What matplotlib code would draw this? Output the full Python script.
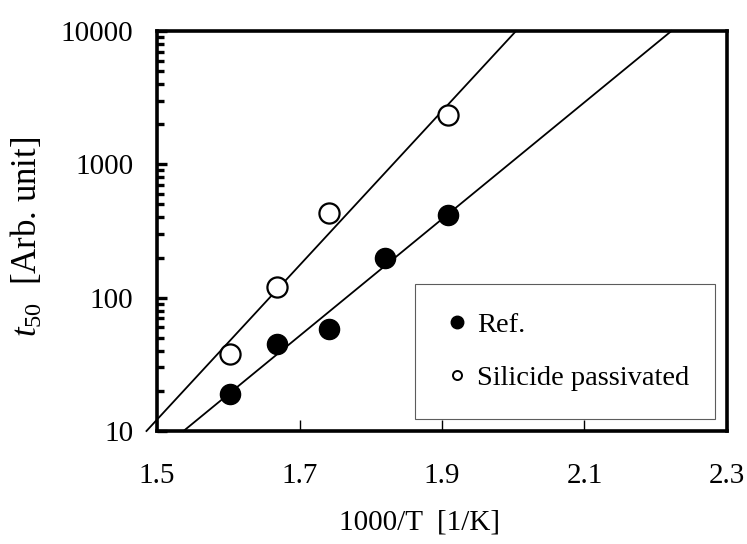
import numpy as np
import matplotlib
matplotlib.use("Agg")
import matplotlib.pyplot as plt
from matplotlib.ticker import LogLocator, NullFormatter, FixedLocator

plt.rcParams['font.family'] = ['Liberation Serif', 'DejaVu Serif']
plt.rcParams['mathtext.fontset'] = 'custom'
plt.rcParams['mathtext.rm'] = 'Liberation Serif'
plt.rcParams['mathtext.it'] = 'Liberation Serif:italic'

# t50 vs inverse temperature
x_ref = [1.603, 1.668, 1.741, 1.820, 1.908]
t50_ref = [19, 45, 58, 199, 420]
x_sil = [1.603, 1.668, 1.741, 1.908]
t50_sil = [38, 120, 430, 2350]

x_ticks = [1.5, 1.7, 1.9, 2.1, 2.3]
y_ticks = [10, 100, 1000, 10000]

fig = plt.figure(figsize=(7.47, 5.44), dpi=100)
ax = fig.add_axes([0.2102, 0.2077, 0.763, 0.7353])
ax.set_yscale('log')
ax.set_xlim(1.5, 2.3)
ax.set_ylim(10, 10000)


def fit_line(xs, ys):
    # Arrhenius fit, drawn from t50=10 up to t50=10000
    k, b = np.polyfit(xs, np.log10(ys), 1)
    xe = (np.array([1.0, 4.0]) - b) / k
    ax.plot(xe, 10 ** (k * xe + b), color='black', lw=1.3, clip_on=False, zorder=2)


fit_line(x_ref, t50_ref)
fit_line(x_sil, t50_sil)

ax.plot(x_ref, t50_ref, 'o', ms=14.5, mfc='black', mec='black', zorder=3,
        label='Ref.')
ax.plot(x_sil, t50_sil, 'o', ms=14.5, mfc='white', mec='black', mew=1.6,
        zorder=3, label='Silicide passivated')

for s in ax.spines.values():
    s.set_linewidth(2.6)

ax.xaxis.set_major_locator(FixedLocator(x_ticks))
ax.set_xticklabels([f'{v:.1f}' for v in x_ticks])
ax.yaxis.set_major_locator(FixedLocator(y_ticks))
ax.set_yticklabels([str(v) for v in y_ticks])
ax.yaxis.set_minor_locator(LogLocator(base=10, subs=np.arange(2, 10)))
ax.yaxis.set_minor_formatter(NullFormatter())

ax.tick_params(axis='x', which='major', direction='in', length=8, width=1,
               labelsize=21, pad=23, top=False)
ax.tick_params(axis='y', which='major', direction='in', length=7, width=2.4,
               labelsize=21, pad=17, right=False)
ax.tick_params(axis='y', which='minor', direction='in', length=5, width=2.4,
               right=False)

ax.set_xlabel('1000/T  [1/K]', fontsize=21)
ax.xaxis.set_label_coords(0.461, -0.195)
ax.set_ylabel(r'$t_{50}$  [Arb. unit]', fontsize=25)
ax.yaxis.set_label_coords(-0.197, 0.486)

leg = ax.legend(loc='lower left', bbox_to_anchor=(0.4526, 0.03, 0.5264, 0.325),
                mode='expand', fontsize=20.5, frameon=True, fancybox=False,
                edgecolor='#333333', handletextpad=0.2, labelspacing=0.95,
                borderpad=0.98, handlelength=1.0, borderaxespad=0)
leg.get_frame().set_linewidth(0.8)
h_ref, h_sil = leg.legend_handles
h_ref.set_markersize(9)
h_sil.set_markersize(6.5)
h_sil.set_markeredgewidth(1.4)

fig.savefig('out.png', dpi=100)
